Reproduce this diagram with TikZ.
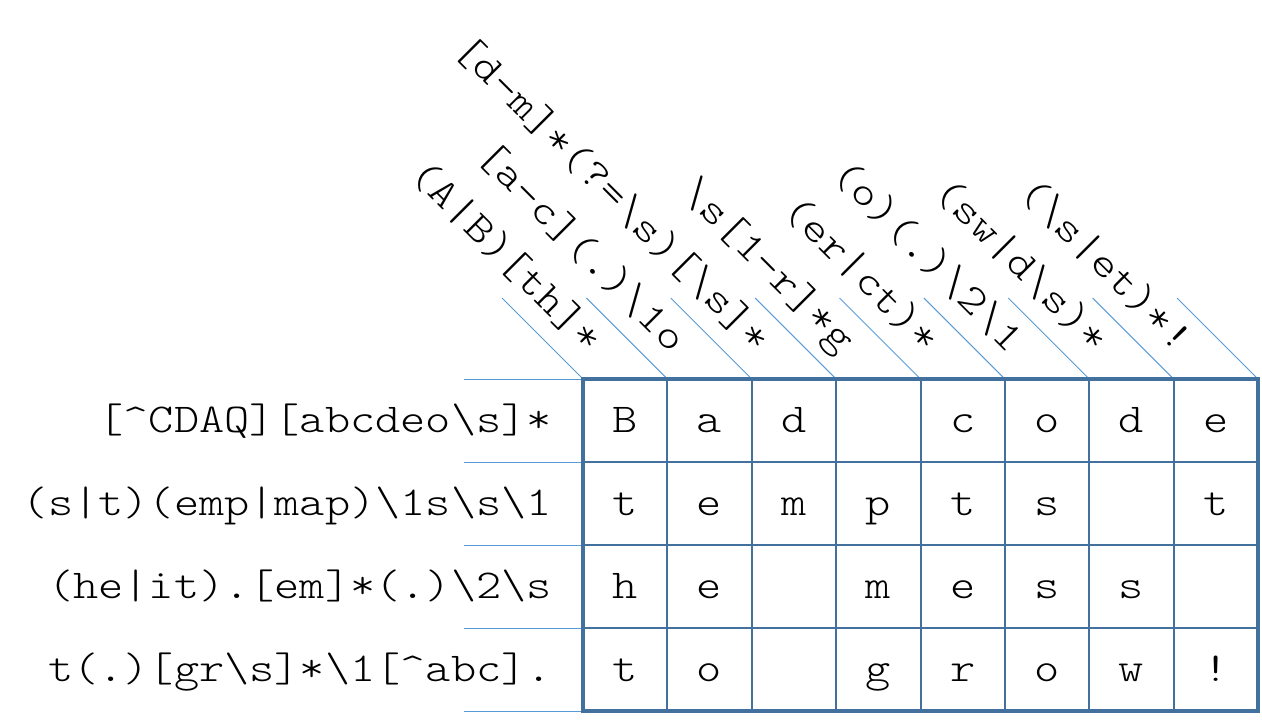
\documentclass[tikz,border=0pt]{standalone}
\usepackage{fontspec}
\newfontfamily\cmono[FakeStretch=1.17]{lmmonolt10-regular.otf}
\usetikzlibrary{calc}
\definecolor{gridblue}{HTML}{41719C}
\definecolor{thinblue}{HTML}{5B9BD5}
\newcommand\BSL{\textbackslash}
\newcommand\HAT{\textasciicircum}
\begin{document}
\begin{tikzpicture}[x=1pt,y=-1pt,
  lbl/.style={font=\fontsize{41}{50}\selectfont\cmono, inner sep=0pt},
  gridthick/.style={draw=gridblue, line width=4pt},
  gridthin/.style={draw=gridblue, line width=2pt},
  guide/.style={draw=thinblue, line width=0.9pt}]
\useasboundingbox (0,0) rectangle (1262,722);
% corner coordinates
\foreach \i in {0,...,8} {
  \coordinate (ct\i) at (583+84.375*\i, 379);
  \coordinate (cb\i) at (583+84.375*\i, 711);
  \coordinate (cd\i) at ($(ct\i)+(-81,-81)$);
}
\foreach \j in {0,...,4} {
  \coordinate (rl\j) at (583, 379+83*\j);
  \coordinate (rr\j) at (1258, 379+83*\j);
  \coordinate (rg\j) at (464, 379+83*\j);
}
% guide lines
\foreach \i in {0,...,8} { \draw[guide] (cd\i) -- (ct\i); }
\foreach \j in {0,...,4} { \draw[guide] (rg\j) -- (rl\j); }
% grid
\foreach \i in {1,...,7} { \draw[gridthin] (ct\i) -- (cb\i); }
\foreach \j in {1,...,3} { \draw[gridthin] (rl\j) -- (rr\j); }
\draw[gridthick] (ct0) rectangle (cb8);
% cells
\foreach \c/\r/\ch in {1/1/B,2/1/a,3/1/d,5/1/c,6/1/o,7/1/d,8/1/e,
  1/2/t,2/2/e,3/2/m,4/2/p,5/2/t,6/2/s,8/2/t,
  1/3/h,2/3/e,4/3/m,5/3/e,6/3/s,7/3/s,
  1/4/t,2/4/o,4/4/g,5/4/r,6/4/o,7/4/w,8/4/!}
  \node[lbl, anchor=base] (cell\c\r) at (583+84.375*\c-42.19, 379+83*\r-41.5+12) {\ch};
% row labels
\node[lbl, anchor=base east] (row1) at (552, 379+41.5+12) {[\HAT CDAQ][abcdeo\BSL s]*};
\node[lbl, anchor=base east] (row2) at (552, 379+83+41.5+12) {(s|t)(emp|map)\BSL 1s\BSL s\BSL 1};
\node[lbl, anchor=base east] (row3) at (552, 379+166+41.5+12) {(he|it).[em]*(.)\BSL 2\BSL s};
\node[lbl, anchor=base east] (row4) at (552, 379+249+41.5+12) {t(.)[gr\BSL s]*\BSL 1[\HAT abc].};
% column labels
\foreach \i/\t in {1/{(A|B)[th]*},2/{[a-c](.)\BSL 1o},3/{[d-m]*(?=\BSL s)[\BSL s]*},
  4/{\BSL s[1-r]*g},5/{(er|ct)*},6/{(o)(.)\BSL 2\BSL 1},7/{(sw|d\BSL s)*},8/{(\BSL s|et)*!}}
  \node[lbl, anchor=base east, rotate=-45] (col\i) at (587+84.375*\i-84.375, 354) {\t};
\end{tikzpicture}
\end{document}
